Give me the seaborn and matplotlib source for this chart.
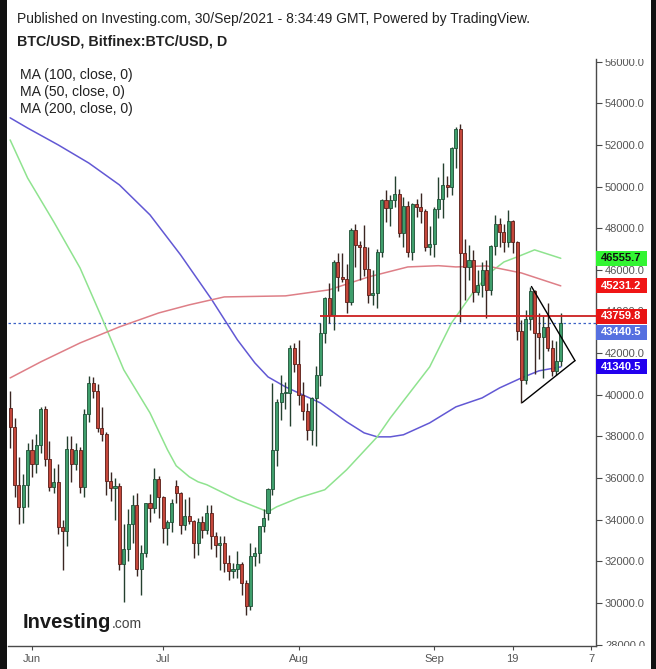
import numpy as np
import pandas as pd
import matplotlib
matplotlib.use("Agg")
import matplotlib.pyplot as plt
import matplotlib.dates as mdates
from matplotlib.transforms import Bbox, TransformedBbox, blended_transform_factory
from matplotlib.patches import Rectangle
import seaborn as sns

# ---------------- data (USD) ----------------
start_date = "2021-05-27"
end_date = "2021-09-30"

opens = [39370, 38450, 35670, 34600, 35670,
         37350, 36700, 37600, 39300, 36900, 35550, 35800, 33650, 33450, 37400,
         36700, 37350, 35550, 39100, 40550, 40200, 38400, 38100, 35840, 35500,
         35600, 31850, 32600, 33800, 34720, 31650, 32400, 34780, 34550, 35950,
         35100, 33600, 33900, 35600, 35300, 33760, 34200, 33960, 32900, 33870,
         33520, 34320, 33200, 32800, 32880, 31920, 31520, 31650, 31880, 30960,
         29840, 32240, 32400, 33680, 34300, 35470, 37360, 39650, 40080, 40100, 42240,
         41490, 40000, 39200, 38290, 39840, 40960, 42960, 44640, 43840, 46370,
         45680, 45550, 44480, 47920, 47200, 47090, 46030, 44800, 44900, 46880,
         49360, 48960, 49360, 49650, 47790, 49070, 46880, 49170, 49000, 48850, 47090,
         47250, 48910, 49390, 50080, 49970, 51840, 52750, 46830, 46160, 46480,
         44960, 45280, 46000, 45040, 47150, 48200, 47840, 47360, 48370, 47360,
         43080, 40720, 43630, 45000, 42960, 42770, 43250, 42240, 41120, 41600]
highs = [40200, 38900, 37000, 36200, 37700,
         37900, 38100, 39400, 39450, 37800, 36500, 36700, 34000, 38000, 38030,
         37700, 37500, 39300, 40900, 40850, 40500, 39400, 38200, 36300, 36000,
         35750, 33800, 34500, 35200, 35300, 32800, 34800, 35250, 36500, 36100,
         35150, 34000, 35000, 35900, 35350, 35000, 35100, 34000, 34100, 34200,
         34700, 34700, 33400, 33200, 33200, 32300, 31900, 32500, 31950, 31100,
         32880, 32700, 33700, 34500, 35500, 40560, 39800, 40960, 40600, 42400, 42500,
         42640, 40600, 39600, 39900, 41400, 43440, 44700, 45360, 46450, 46800,
         46800, 46300, 48000, 48200, 47400, 48160, 47100, 46000, 47000, 49400,
         49840, 49600, 50500, 49900, 49490, 49300, 49200, 49400, 49700, 48900, 48100,
         49000, 50480, 51120, 50500, 51900, 52880, 53000, 47470, 47200, 46960,
         46000, 46400, 46480, 47200, 48640, 48500, 48200, 48880, 48400, 47400,
         43600, 44080, 45200, 45050, 43920, 43760, 44400, 42640, 42600, 43920]
lows = [37450, 35100, 33800, 33850, 34600,
        36060, 36250, 37200, 36600, 35400, 35300, 33300, 31600, 32750, 35800,
        36400, 35300, 35100, 38700, 39850, 38200, 37800, 35200, 34900, 34000,
        31600, 30050, 32000, 32900, 31300, 30400, 32200, 33900, 34300, 34100,
        32880, 32800, 33400, 34800, 33300, 33500, 33800, 32160, 32300, 33100,
        33300, 32600, 32200, 31600, 31500, 31100, 31200, 31200, 30400, 29440,
        29680, 31800, 31900, 33400, 34000, 35200, 36560, 38800, 39300, 38480, 41100,
        39500, 38800, 37840, 37600, 37520, 40400, 42500, 43440, 43100, 45000,
        45400, 43920, 44300, 46160, 45500, 45700, 44400, 44300, 44160, 46600,
        48300, 48100, 49000, 47600, 47100, 46640, 46480, 48560, 48270, 46900, 46720,
        46600, 48500, 48480, 49500, 49600, 50900, 43500, 44560, 45500, 44480,
        44800, 44700, 43680, 44800, 46700, 47120, 46880, 47100, 46800, 42640,
        39600, 40500, 43100, 41000, 41700, 40800, 42100, 40880, 40960, 41400]
closes = [38450, 35670, 34600, 35670, 37350,
          36700, 37600, 39300, 36900, 35550, 35800, 33650, 33450, 37400, 36700,
          37350, 35550, 39100, 40550, 40200, 38400, 38100, 35840, 35500, 35600,
          31850, 32600, 33800, 34720, 31650, 32400, 34780, 34550, 35950, 35100,
          33600, 33900, 34800, 35300, 33760, 34200, 33960, 32900, 33870, 33520,
          34320, 33200, 32800, 32880, 31920, 31520, 31650, 31880, 30960, 29840,
          32240, 32400, 33680, 34100, 35470, 37360, 39650, 40080, 40100, 42240, 41490,
          40000, 39200, 38290, 39840, 40960, 42960, 44640, 43840, 46370, 45680,
          45550, 44480, 47920, 47200, 47090, 46030, 44800, 44900, 46880, 49360,
          48960, 49360, 49650, 47790, 49070, 46880, 49170, 49000, 48850, 47090, 47250,
          48910, 49390, 50080, 49970, 51840, 52750, 46830, 46160, 46480, 44960,
          45280, 46000, 45040, 47150, 48200, 47840, 47360, 48370, 47360, 43080,
          40720, 43630, 45000, 42960, 42770, 43250, 42240, 41120, 41600, 43440]

ma100_dates = ["2021-05-27", "2021-05-31", "2021-06-07", "2021-06-14", "2021-06-21",
               "2021-06-28", "2021-07-05", "2021-07-12", "2021-07-18", "2021-07-22",
               "2021-07-25", "2021-07-29", "2021-08-01", "2021-08-06", "2021-08-12",
               "2021-08-16", "2021-08-19", "2021-08-22", "2021-08-25", "2021-08-31",
               "2021-09-06", "2021-09-12", "2021-09-16", "2021-09-21", "2021-09-25",
               "2021-09-30"]
ma100_values = [53300, 52810, 52000, 51130, 50080, 48640, 46720, 44610, 42640, 41530,
                40860, 40380, 40090, 39610, 38700, 38170, 37980, 37980, 38080, 38650,
                39420, 39850, 40330, 40810, 41150, 41340.5]

ma50_dates = ["2021-05-27", "2021-05-31", "2021-06-06", "2021-06-12", "2021-06-17",
              "2021-06-22", "2021-06-28", "2021-07-02", "2021-07-04", "2021-07-07",
              "2021-07-09", "2021-07-11", "2021-07-18", "2021-07-25", "2021-07-27",
              "2021-08-01", "2021-08-07", "2021-08-12", "2021-08-19", "2021-08-22",
              "2021-08-31", "2021-09-05", "2021-09-10", "2021-09-14", "2021-09-17",
              "2021-09-20", "2021-09-24", "2021-09-30"]
ma50_values = [52240, 50410, 48300, 46090, 43690, 41200, 39130, 37360, 36590, 36060,
               35820, 35680, 34960, 34380, 34620, 35050, 35440, 36400, 37980, 38890,
               41340, 43450, 44940, 45900, 46380, 46620, 46960, 46555.7]

ma200_dates = ["2021-05-27", "2021-06-03", "2021-06-12", "2021-06-21", "2021-06-30",
               "2021-07-07", "2021-07-15", "2021-07-29", "2021-08-08", "2021-08-17",
               "2021-08-26", "2021-09-02", "2021-09-06", "2021-09-13", "2021-09-21",
               "2021-09-30"]
ma200_values = [40810, 41580, 42490, 43260, 43930, 44320, 44700, 44750, 45040, 45660,
                46140, 46200, 46140, 46190, 45850, 45231.2]

last_price = 43440.5
resistance_level = 43759.8
resistance_start = "2021-08-06"
tri_upper_dates = ["2021-09-23 07:00", "2021-10-03 06:00"]
tri_upper_prices = [45200, 41640]
tri_lower_dates = ["2021-09-21 05:00", "2021-10-03 06:00"]
tri_lower_prices = [39630, 41640]

tick_dates = ["2021-06-01", "2021-07-01", "2021-08-01", "2021-09-01", "2021-09-19", "2021-10-07"]
tick_labels = ["Jun", "Jul", "Aug", "Sep", "19", "7"]
legend_labels = ["MA (100, close, 0)", "MA (50, close, 0)", "MA (200, close, 0)"]

# ---------------- styling ----------------
sns.set_theme(style="white")
plt.rcParams["font.family"] = ["Liberation Sans", "DejaVu Sans"]

W, H = 656, 669
fig = plt.figure(figsize=(W / 100, H / 100), dpi=100)
fig.patch.set_facecolor("white")
ax_left, ax_right, ax_top, ax_bottom = 8, 596, 58.5, 645.7
ax = fig.add_axes([ax_left / W, 1 - ax_bottom / H, (ax_right - ax_left) / W, (ax_bottom - ax_top) / H])
ax.set_facecolor("white")

dates = pd.date_range(start_date, end_date, freq="D")
df = pd.DataFrame({"date": dates, "open": opens, "high": highs, "low": lows, "close": closes})
df["x"] = mdates.date2num(df["date"])
up = df["close"] >= df["open"]

GREEN_FILL, GREEN_EDGE = "#3f9e6c", "#1d4f35"
RED_FILL, RED_EDGE = "#c4473b", "#5a1d17"
wick_col = np.where(up, "#24402f", "#3a2622")
ax.vlines(df["x"], df["low"], df["high"], colors=wick_col, lw=1.0, zorder=3)
body_h = (df["close"] - df["open"]).abs().clip(lower=60)
ax.bar(df["x"], body_h, bottom=np.minimum(df["open"], df["close"]), width=0.7,
       color=np.where(up, GREEN_FILL, RED_FILL), edgecolor=np.where(up, GREEN_EDGE, RED_EDGE),
       linewidth=0.6, zorder=4)

# moving averages
ma_specs = [(ma100_dates, ma100_values, "#6258d4"),
            (ma50_dates, ma50_values, "#8fe38f"),
            (ma200_dates, ma200_values, "#de7f87")]
for d, v, c in ma_specs:
    mdf = pd.DataFrame({"x": mdates.date2num(pd.to_datetime(d)), "v": v})
    sns.lineplot(data=mdf, x="x", y="v", ax=ax, color=c, lw=1.1, zorder=2, legend=False)

x_left = mdates.date2num(pd.Timestamp("2021-06-01")) - 5.49
x_right = mdates.date2num(pd.Timestamp("2021-06-01")) + 129.06
ax.set_xlim(x_left, x_right)
ax.set_ylim(27950, 56150)

# horizontal lines
ax.axhline(last_price, color="#3d63c6", lw=0.9, ls=(0, (2, 2)), zorder=1)
ax.hlines(resistance_level, mdates.date2num(pd.Timestamp(resistance_start)), x_right,
          color="#cc2020", lw=1.3, zorder=5)

# triangle
ax.plot(mdates.date2num(pd.to_datetime(tri_upper_dates)), tri_upper_prices, color="black", lw=1.0, zorder=6)
ax.plot(mdates.date2num(pd.to_datetime(tri_lower_dates)), tri_lower_prices, color="black", lw=1.0, zorder=6)

# axes decoration
ax.set_xlabel("")
ax.set_ylabel("")
for s in ["left", "top"]:
    ax.spines[s].set_visible(False)
for s in ["right", "bottom"]:
    ax.spines[s].set_visible(True)
    ax.spines[s].set_color("#4a4a4a")
    ax.spines[s].set_linewidth(1.0)
ax.yaxis.tick_right()
yt = np.arange(28000, 56001, 2000)
ax.set_yticks(yt)
ax.set_yticklabels([f"{v:.1f}" for v in yt])
ax.set_xticks(mdates.date2num(pd.to_datetime(tick_dates)))
ax.set_xticklabels(tick_labels)
ax.tick_params(axis="y", which="both", right=True, left=False, length=4, width=0.8,
               color="#4a4a4a", labelsize=8, labelcolor="#555555", pad=2.5)
ax.tick_params(axis="x", which="both", bottom=True, length=3, width=0.8,
               color="#4a4a4a", labelsize=8, labelcolor="#555555", pad=3)
ax.grid(False)

clip_box = TransformedBbox(Bbox([[1.0, 0.0], [1.3, 1.0]]), ax.transAxes)
for t in ax.yaxis.get_major_ticks():
    for lab in (t.label1, t.label2):
        lab.set_clip_box(clip_box)
        lab.set_clip_on(True)

# price tags on the right
btrans = blended_transform_factory(ax.transAxes, ax.transData)
px = (ax_bottom - ax_top) / (56150 - 27950)  # pixels per USD
box_w = 51 / (ax_right - ax_left)
half_h = 7.5 / px
tags = [(46555.7, 46555.7, "#33f533", "#111111"),
        (45231.2, 45231.2, "#f01616", "white"),
        (resistance_level, resistance_level, "#e81414", "white"),
        (last_price, last_price - 9 / px, "#5670e0", "white"),
        (41340.5, 41340.5, "#2200ee", "white")]
for val, ypos, bg, fg in tags:
    ax.add_patch(Rectangle((1.0, ypos - half_h), box_w, 2 * half_h, transform=btrans,
                           facecolor=bg, edgecolor="none", clip_on=False, zorder=20))
    ax.text(1.0 + box_w / 2, ypos, f"{val:.1f}", transform=btrans, ha="center", va="center",
            fontsize=8, fontweight="bold", color=fg, clip_on=False, zorder=21)

# header and legend texts
fig.text(17 / W, 1 - 19 / H, "Published on Investing.com, 30/Sep/2021 - 8:34:49 GMT, Powered by TradingView.",
         fontsize=10, color="#222222", va="center", ha="left")
fig.text(17 / W, 1 - 42 / H, "BTC/USD, Bitfinex:BTC/USD, D", fontsize=10.3, fontweight="bold",
         color="#222222", va="center", ha="left")
for i, lab in enumerate(legend_labels):
    fig.text(20 / W, 1 - (75 + 17 * i) / H, lab, fontsize=10.1, color="#222222", va="center", ha="left")

# logo
fig.text(23 / W, 1 - 628 / H, "Investing", fontsize=14.5, fontweight="bold", color="#1a1a1a",
         va="baseline", ha="left")
fig.text(112 / W, 1 - 628 / H, ".com", fontsize=10, color="#444444", va="baseline", ha="left")

# dark side borders
fig.patches.append(Rectangle((0, 0), 7 / W, 1, transform=fig.transFigure, facecolor="#111111",
                             edgecolor="none", zorder=50))
fig.patches.append(Rectangle((1 - 5 / W, 0), 5 / W, 1, transform=fig.transFigure, facecolor="#111111",
                             edgecolor="none", zorder=50))

fig.savefig("out.png", dpi=100, facecolor="white")
